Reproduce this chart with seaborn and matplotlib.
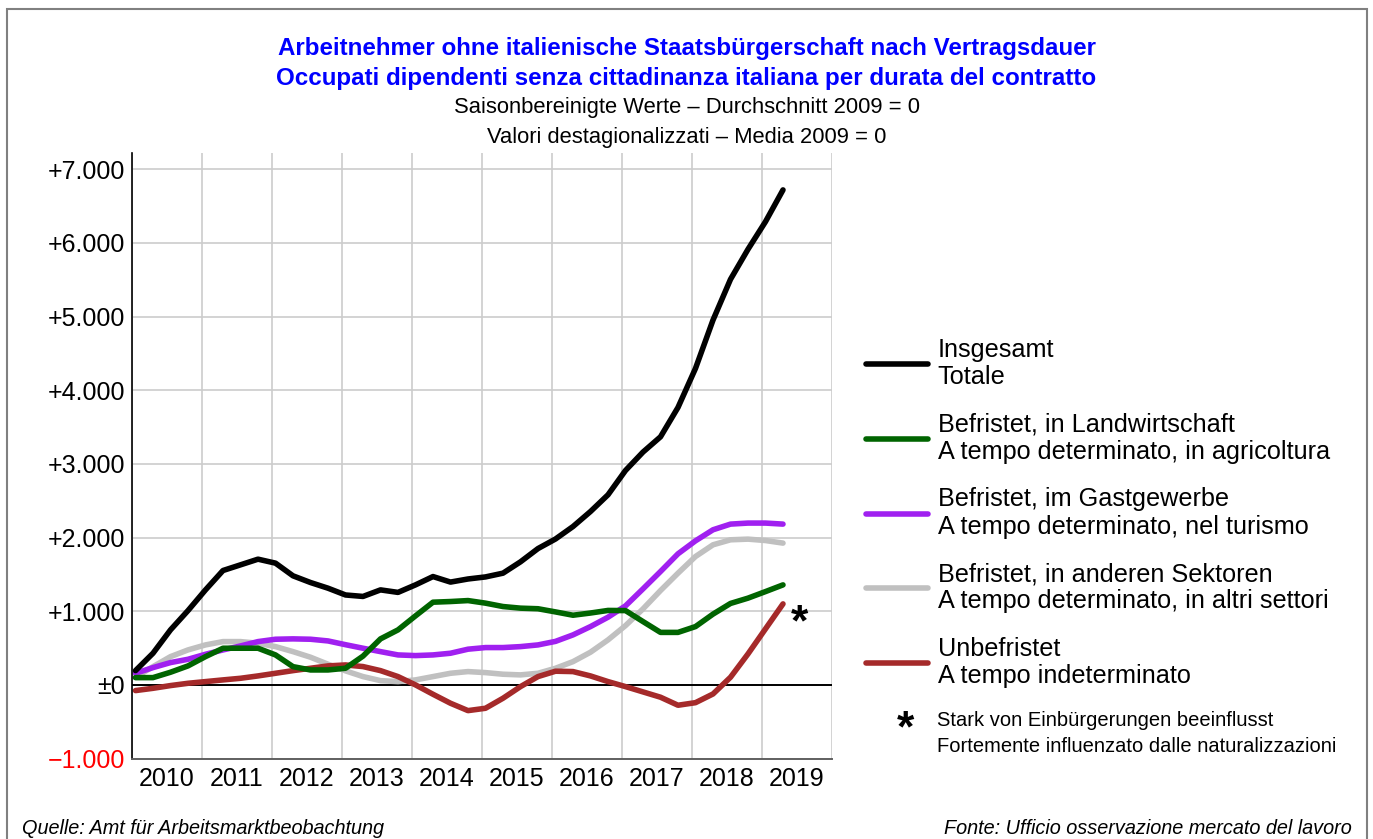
import numpy as np
import pandas as pd
import matplotlib
matplotlib.use("Agg")
import matplotlib.pyplot as plt
import seaborn as sns
from matplotlib.lines import Line2D
from matplotlib.patches import Rectangle

# quarterly values, 2010Q1 - 2019Q2, change vs. 2009 average
quarters = pd.period_range("2010Q1", "2019Q2", freq="Q")
totale = [193, 429, 746, 1008, 1289, 1552, 1629, 1706, 1652, 1480, 1389, 1312, 1220, 1200, 1289, 1255,
          1357, 1470, 1395, 1437, 1465, 1516, 1670, 1850, 1980, 2149, 2353, 2580, 2910, 3160, 3367, 3766,
          4296, 4952, 5505, 5913, 6288, 6719]
agricoltura = [98, 98, 171, 257, 383, 497, 497, 497, 406, 247, 202, 202, 225, 390, 624, 746,
               936, 1122, 1131, 1144, 1109, 1063, 1041, 1033, 990, 945, 975, 1010, 1008, 859, 712, 712,
               791, 960, 1105, 1177, 1266, 1357]
turismo = [157, 234, 302, 347, 415, 474, 528, 587, 619, 624, 619, 596, 545, 497, 451, 406,
           397, 406, 429, 484, 506, 506, 519, 542, 590, 678, 791, 918, 1072, 1303, 1538, 1779,
           1955, 2105, 2182, 2196, 2196, 2182]
altri = [103, 247, 383, 474, 542, 587, 587, 565, 519, 451, 375, 280, 190, 112, 57, 44,
         67, 112, 157, 180, 166, 144, 135, 157, 225, 315, 443, 610, 804, 1031, 1280, 1516,
         1742, 1901, 1969, 1978, 1959, 1924]
indeterminato = [-78, -47, -10, 21, 44, 67, 89, 121, 157, 193, 225, 257, 270, 248, 193, 112,
                 -1, -128, -250, -350, -318, -182, -24, 112, 185, 180, 121, 44, -24, -96, -168, -277,
                 -242, -124, 103, 420, 760, 1099]

names = ["Insgesamt\nTotale",
         "Befristet, in Landwirtschaft\nA tempo determinato, in agricoltura",
         "Befristet, im Gastgewerbe\nA tempo determinato, nel turismo",
         "Befristet, in anderen Sektoren\nA tempo determinato, in altri settori",
         "Unbefristet\nA tempo indeterminato"]
colors = ["#000000", "#006400", "#a020f0", "#c0c0c0", "#a52a2a"]
years = [str(y) for y in range(2010, 2020)]
ytick_vals = list(range(-1000, 8000, 1000))
ytick_labels = ["\u22121.000", "\u00b10", "+1.000", "+2.000", "+3.000", "+4.000", "+5.000", "+6.000", "+7.000"]

x = quarters.year + (quarters.quarter - 1) / 4 + 0.05
df = pd.DataFrame({
    "x": np.tile(x, 5),
    "value": np.concatenate([totale, agricoltura, turismo, altri, indeterminato]),
    "serie": np.repeat(names, len(quarters)),
})

sns.set_style("white")
plt.rcParams["font.family"] = ["Liberation Sans", "DejaVu Sans"]
plt.rcParams["text.color"] = "black"
plt.rcParams["xtick.color"] = "black"
plt.rcParams["ytick.color"] = "black"

W, H = 1373, 839
fig = plt.figure(figsize=(W / 100, H / 100), dpi=100)
ax = fig.add_axes([132 / W, (H - 758.5) / H, 700 / W, (758.5 - 153) / H])

draw_order = [names[3], names[4], names[2], names[1], names[0]]
sns.lineplot(data=df, x="x", y="value", hue="serie", hue_order=draw_order,
             palette=dict(zip(names, colors)), linewidth=4, legend=False, ax=ax,
             solid_capstyle="round")

ax.set_xlim(2010, 2020)
ax.set_ylim(-1000, 7220)
ax.set_xlabel("")
ax.set_ylabel("")
ax.set_axisbelow(True)

ax.set_yticks(ytick_vals)
ax.set_yticklabels(ytick_labels)
ax.get_yticklabels()[0].set_color("red")
ax.tick_params(axis="y", length=0, pad=5, labelsize=18, labelcolor="black")
ax.get_yticklabels()[0].set_color("red")

ax.set_xticks(range(2010, 2021))
ax.set_xticklabels([])
ax.set_xticks(np.arange(2010.5, 2020), minor=True)
ax.set_xticklabels(years, minor=True)
ax.tick_params(axis="x", which="major", length=12.5, width=1.2, color="#c8c8c8", direction="out")
ax.tick_params(axis="x", which="minor", length=0, pad=6, labelsize=18, labelcolor="black")
ax.xaxis.get_major_ticks()[0].tick1line.set_color("black")

ax.grid(True, which="major", color="#cccccc", linewidth=1.2)
ax.axhline(0, color="black", linewidth=1.4, zorder=1.5)
for s in ["top", "right"]:
    ax.spines[s].set_visible(False)
ax.spines["left"].set_color("black")
ax.spines["left"].set_linewidth(1.2)
ax.spines["bottom"].set_color("#606060")
ax.spines["bottom"].set_linewidth(1.4)

ax.text(2019.54, 830, "*", fontsize=32, fontweight="bold", ha="center", va="center", color="black")

# titles
fig.text(0.5, 1 - 48 / H, "Arbeitnehmer ohne italienische Staatsbürgerschaft nach Vertragsdauer",
         ha="center", va="center", fontsize=17.4, fontweight="bold", color="#0000ff")
fig.text(0.5, 1 - 78 / H, "Occupati dipendenti senza cittadinanza italiana per durata del contratto",
         ha="center", va="center", fontsize=17.4, fontweight="bold", color="#0000ff")
fig.text(0.5, 1 - 108 / H, "Saisonbereinigte Werte \u2013 Durchschnitt 2009 = 0",
         ha="center", va="center", fontsize=15.8)
fig.text(0.5, 1 - 137 / H, "Valori destagionalizzati \u2013 Media 2009 = 0",
         ha="center", va="center", fontsize=15.8)

# legend
handles = [Line2D([], [], color=c, linewidth=4, solid_capstyle="round") for c in colors]
leg = ax.legend(handles, names, loc="upper left", bbox_to_anchor=(866 / W, 1 - 338 / H),
                bbox_transform=fig.transFigure, frameon=False, fontsize=18.2,
                handlelength=2.45, handletextpad=0.38, labelspacing=0.93,
                borderpad=0, borderaxespad=0)
for t in leg.get_texts():
    t.set_linespacing(1.17)
    t.set_color("black")

fig.text(905 / W, 1 - 730 / H, "*", fontsize=32, fontweight="bold", ha="center", va="center")
fig.text(937 / W, 1 - 720 / H, "Stark von Einbürgerungen beeinflusst", ha="left", va="center", fontsize=14.5)
fig.text(937 / W, 1 - 746 / H, "Fortemente influenzato dalle naturalizzazioni", ha="left", va="center", fontsize=14.5)

# sources
fig.text(22 / W, 1 - 828 / H, "Quelle: Amt für Arbeitsmarktbeobachtung", ha="left", va="center",
         fontsize=14.3, style="italic")
fig.text(1352 / W, 1 - 828 / H, "Fonte: Ufficio osservazione mercato del lavoro", ha="right", va="center",
         fontsize=14.3, style="italic")

fig.add_artist(Rectangle((7 / W, -0.02), (1367 - 7) / W, 1.02 - 9 / H, transform=fig.transFigure,
                         fill=False, edgecolor="#808080", linewidth=1.5))

fig.savefig("out.png", dpi=100)
